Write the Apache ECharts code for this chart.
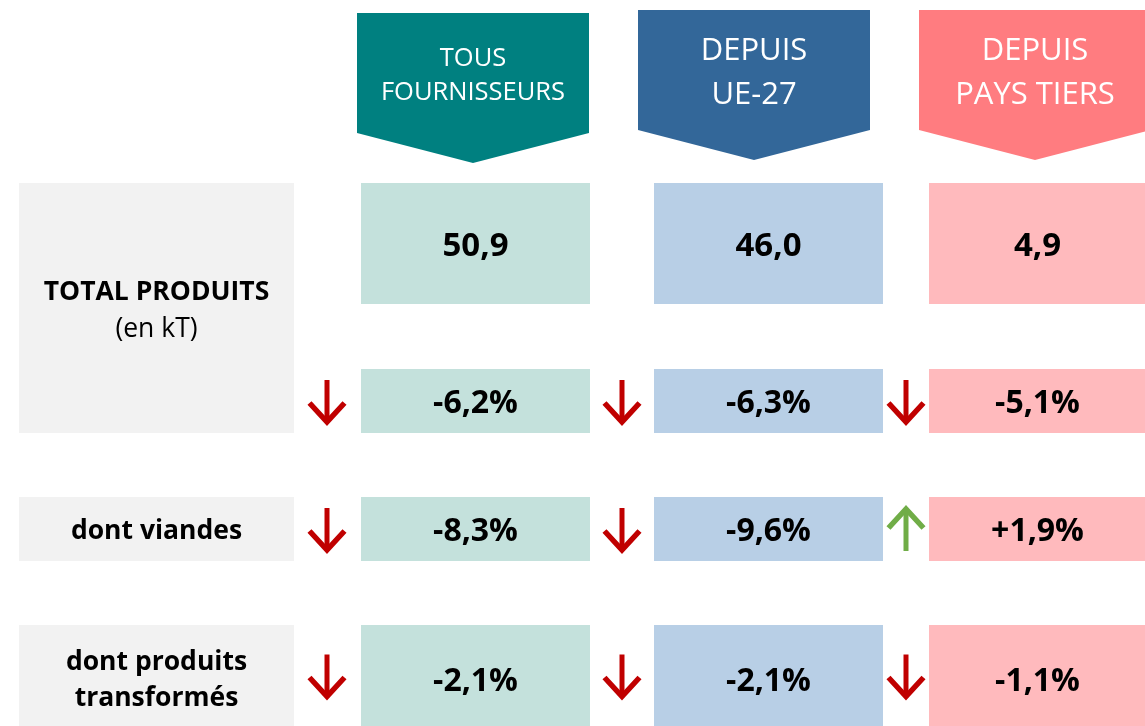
<!DOCTYPE html>
<html>
<head>
<meta charset="utf-8">
<script src="https://cdn.jsdelivr.net/npm/echarts@6/dist/echarts.min.js"></script>
<style>
html,body{margin:0;padding:0;background:#fff;}
#chart{width:1145px;height:726px;}
</style>
</head>
<body>
<div id="chart"></div>
<script>
// ---- data ----
const suppliers = ['TOUS\nFOURNISSEURS', 'DEPUIS\nUE-27', 'DEPUIS\nPAYS TIERS'];
const rowLabels = ['TOTAL PRODUITS', 'dont viandes', 'dont produits\ntransformés'];
const rowUnit = '(en kT)';
const totalVolume = [50.9, 46.0, 4.9];        // kT
const totalChange = [-6.2, -6.3, -5.1];       // %
const meatChange = [-8.3, -9.6, 1.9];         // %
const processedChange = [-2.1, -2.1, -1.1];   // %

// ---- styles / layout ----
const headColors = ['#008080', '#336799', '#FF7C80'];
const cellColors = ['#C4E1DC', '#B8CFE6', '#FFBABD'];
const headFont = [25.5, 31, 31];
const headLine = [34, 44, 44];
const W = 1145, H = 726;
const FONT = '"Open Sans", "Noto Sans", sans-serif';
const headers = [
  {x0: 357, x1: 589, top: 13, side: 133, tip: 163},
  {x0: 638, x1: 870, top: 10, side: 130, tip: 160},
  {x0: 919, x1: 1151, top: 10, side: 130, tip: 160}
];
const colCells = [[361, 590], [654, 883], [929, 1146]];
const arrowX = [327, 622, 906];
const valueRow = [183, 304];
const pctRows = [[369, 433], [497, 561], [625, 726]];
const labelBoxes = [[183, 433], [497, 561], [625, 726]];
const labelX = [19, 294];

const fmt = v => v.toFixed(1).replace('.', ',');
const fmtPct = v => (v > 0 ? '+' : '') + fmt(v) + '%';

const changes = [totalChange, meatChange, processedChange];

// data items for series
const headerData = suppliers.map((s, i) => [i]);
const labelData = rowLabels.map((s, i) => [i]);
const valueData = totalVolume.map((v, i) => [i, v]);
const pctData = [];
changes.forEach((arr, r) => arr.forEach((v, c) => pctData.push([c, r, v])));

function rectShape(api, x0, y0, x1, y1) {
  const p0 = api.coord([x0, y0]);
  const p1 = api.coord([x1, y1]);
  return {x: p0[0], y: p0[1], width: p1[0] - p0[0], height: p1[1] - p0[1]};
}

const chart = echarts.init(document.getElementById('chart'), null, {renderer: 'canvas'});
chart.setOption({
  animation: false,
  backgroundColor: '#ffffff',
  grid: {left: 0, right: 0, top: 0, bottom: 0},
  xAxis: {type: 'value', min: 0, max: W, show: false},
  yAxis: {type: 'value', min: 0, max: H, inverse: true, show: false},
  series: [
    {
      type: 'custom', name: 'headers', data: headerData, clip: false,
      renderItem: (params, api) => {
        const i = api.value(0);
        const h = headers[i];
        const pts = [[h.x0, h.top], [h.x1, h.top], [h.x1, h.side], [(h.x0 + h.x1) / 2, h.tip], [h.x0, h.side]]
          .map(p => api.coord(p));
        const c = api.coord([(h.x0 + h.x1) / 2, (h.top + h.side) / 2 + 3]);
        return {
          type: 'group', children: [
            {type: 'polygon', shape: {points: pts}, style: {fill: headColors[i]}},
            {type: 'text', style: {
              text: suppliers[i], x: c[0], y: c[1], fill: '#ffffff',
              fontFamily: FONT, fontSize: headFont[i], lineHeight: headLine[i],
              align: 'center', verticalAlign: 'middle'
            }}
          ]
        };
      }
    },
    {
      type: 'custom', name: 'labels', data: labelData, clip: false,
      renderItem: (params, api) => {
        const i = api.value(0);
        const b = labelBoxes[i];
        const c = api.coord([(labelX[0] + labelX[1]) / 2, (b[0] + b[1]) / 2]);
        const children = [
          {type: 'rect', shape: rectShape(api, labelX[0], b[0], labelX[1], b[1]), style: {fill: '#F2F2F2'}}
        ];
        if (i === 0) {
          children.push({type: 'text', style: {
            text: '{b|' + rowLabels[i] + '}\n{n|' + rowUnit + '}', x: c[0], y: c[1] + 3,
            fill: '#000', align: 'center', verticalAlign: 'middle',
            rich: {
              b: {fontFamily: FONT, fontSize: 26.5, fontWeight: 'bold', lineHeight: 37, fill: '#000', align: 'center'},
              n: {fontFamily: FONT, fontSize: 26.5, lineHeight: 37, fill: '#000', align: 'center'}
            }
          }});
        } else {
          children.push({type: 'text', style: {
            text: rowLabels[i], x: c[0], y: c[1] + (i === 2 ? 5 : 2), fill: '#000',
            fontFamily: FONT, fontSize: 26.5, fontWeight: 'bold', lineHeight: 36,
            align: 'center', verticalAlign: 'middle'
          }});
        }
        return {type: 'group', children};
      }
    },
    {
      type: 'custom', name: 'volume', data: valueData, clip: false,
      renderItem: (params, api) => {
        const col = api.value(0);
        const v = api.value(1);
        const cx = colCells[col];
        const c = api.coord([(cx[0] + cx[1]) / 2, (valueRow[0] + valueRow[1]) / 2]);
        return {type: 'group', children: [
          {type: 'rect', shape: rectShape(api, cx[0], valueRow[0], cx[1], valueRow[1]), style: {fill: cellColors[col]}},
          {type: 'text', style: {
            text: fmt(v), x: c[0], y: c[1] + 3, fill: '#000',
            fontFamily: FONT, fontSize: 33, fontWeight: 'bold', align: 'center', verticalAlign: 'middle'
          }}
        ]};
      }
    },
    {
      type: 'custom', name: 'change', data: pctData, clip: false,
      renderItem: (params, api) => {
        const col = api.value(0);
        const row = api.value(1);
        const v = api.value(2);
        const cx = colCells[col];
        const ry = pctRows[row];
        const cy = (ry[0] + ry[1]) / 2;
        const c = api.coord([(cx[0] + cx[1]) / 2, cy]);
        const ax = arrowX[col];
        const up = v > 0;
        const ay = cy + (up ? 1 : 0);
        const half = 21;
        const dir = up ? -1 : 1;
        const tip = [ax, ay + dir * half];
        const shaft = [api.coord([ax, ay - dir * half]), api.coord(tip)];
        const head = [api.coord([ax - 17.5, ay + dir * (half - 19)]), api.coord(tip), api.coord([ax + 17.5, ay + dir * (half - 19)])];
        const color = up ? '#70AD47' : '#C00000';
        return {type: 'group', children: [
          {type: 'rect', shape: rectShape(api, cx[0], ry[0], cx[1], ry[1]), style: {fill: cellColors[col]}},
          {type: 'text', style: {
            text: fmtPct(v), x: c[0], y: c[1] + (row === 2 ? 6 : 3), fill: '#000',
            fontFamily: FONT, fontSize: 32, fontWeight: 'bold', align: 'center', verticalAlign: 'middle'
          }},
          {type: 'polyline', shape: {points: shaft}, style: {stroke: color, lineWidth: 5, fill: null, lineCap: 'butt'}},
          {type: 'polyline', shape: {points: head}, style: {stroke: color, lineWidth: 5.5, fill: null, lineCap: 'butt', lineJoin: 'miter'}}
        ]};
      }
    }
  ]
});
</script>
</body>
</html>
